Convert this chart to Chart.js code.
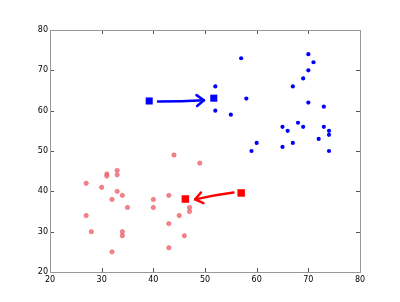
<!DOCTYPE html>
<html><head><meta charset="utf-8">
<script src="https://cdn.jsdelivr.net/npm/chart.js@4"></script>
<style>html,body{margin:0;padding:0;background:#fff}#w{width:400px;height:302px}</style>
</head><body><div id="w"><canvas id="c" width="400" height="302"></canvas></div>
<script>
const xTicks = [20, 30, 40, 50, 60, 70, 80];
const yTicks = [20, 30, 40, 50, 60, 70, 80];
const blueX = [57,70,71,70,69,67,52,58,70,73,52,55,68,65,69,73,66,74,74,72,60,67,65,59,74];
const blueY = [73,74,72,70,68,66,66,63,62,61,60,59,57,56,56,56,55,55,54,53,52,52,51,50,50];
const redX = [44,49,33,33,31,31,27,30,33,34,43,32,40,35,40,47,47,45,27,43,28,34,34,46,43,32];
const redY = [49,47,45.2,44.1,44.3,43.8,42,41,40,39,39,38,38,36,36,36,35,34,34,32,30,30,29,29,26,25];
const blueCentersX = [39.2, 51.7];
const blueCentersY = [62.4, 63.1];
const redCentersX = [57, 46.2];
const redCentersY = [39.6, 38.1];
const blueArrowX = [40.9, 45.5, 49.8];
const blueArrowY = [62.3, 62.3, 62.6];
const redArrowX = [55.5, 51.9, 48.1];
const redArrowY = [39.7, 39.1, 38.0];

const pts = (xs, ys) => xs.map((x, i) => ({x, y: ys[i]}));

const arrowPlugin = {
  id: 'arrows',
  afterDatasetsDraw(chart) {
    const {ctx, scales: {x, y}} = chart;
    const draw = (xs, ys, color) => {
      const p = xs.map((v, i) => [x.getPixelForValue(v), y.getPixelForValue(ys[i])]);
      ctx.save();
      ctx.strokeStyle = color; ctx.lineWidth = 2.5; ctx.lineCap = 'round'; ctx.lineJoin = 'round';
      ctx.beginPath();
      ctx.moveTo(p[0][0], p[0][1]);
      ctx.quadraticCurveTo(p[1][0], p[1][1], p[2][0], p[2][1]);
      ctx.stroke();
      const a = Math.atan2(p[2][1] - p[1][1], p[2][0] - p[1][0]);
      const L = 9, s = 0.65;
      ctx.beginPath();
      ctx.moveTo(p[2][0] - L * Math.cos(a - s), p[2][1] - L * Math.sin(a - s));
      ctx.lineTo(p[2][0], p[2][1]);
      ctx.lineTo(p[2][0] - L * Math.cos(a + s), p[2][1] - L * Math.sin(a + s));
      ctx.stroke();
      ctx.restore();
    };
    draw(blueArrowX, blueArrowY, '#0000ff');
    draw(redArrowX, redArrowY, '#ff0000');
  }
};

const framePlugin = {
  id: 'frame',
  afterDraw(chart) {
    const {ctx, chartArea: a, scales: {x, y}} = chart;
    ctx.save();
    ctx.strokeStyle = '#555'; ctx.lineWidth = 1;
    ctx.beginPath();
    xTicks.forEach(v => {
      const px = Math.round(x.getPixelForValue(v)) + 0.5;
      ctx.moveTo(px, a.bottom); ctx.lineTo(px, a.bottom - 4);
      ctx.moveTo(px, a.top); ctx.lineTo(px, a.top + 4);
    });
    yTicks.forEach(v => {
      const py = Math.round(y.getPixelForValue(v)) + 0.5;
      ctx.moveTo(a.left, py); ctx.lineTo(a.left + 4, py);
      ctx.moveTo(a.right, py); ctx.lineTo(a.right - 4, py);
    });
    ctx.stroke();
    ctx.strokeStyle = '#999';
    ctx.strokeRect(Math.round(a.left) + 0.5, Math.round(a.top) + 0.5, Math.round(a.right - a.left), Math.round(a.bottom - a.top));
    ctx.restore();
  }
};

new Chart(document.getElementById('c'), {
  type: 'scatter',
  data: {
    datasets: [
      {data: pts(blueX, blueY), backgroundColor: '#0000ff', borderColor: '#0000ff', borderWidth: 0, pointRadius: 2.1},
      {data: pts(redX, redY), backgroundColor: 'rgba(242,110,118,0.85)', borderColor: 'rgba(225,80,90,0.9)', borderWidth: 0.5, pointRadius: 2.2},
      {data: pts(blueCentersX, blueCentersY), pointStyle: 'rect', backgroundColor: '#0000ff', borderColor: '#0000ff', borderWidth: 0, pointRadius: 5},
      {data: pts(redCentersX, redCentersY), pointStyle: 'rect', backgroundColor: '#ff0000', borderColor: '#ff0000', borderWidth: 0, pointRadius: 5.3}
    ]
  },
  options: {
    responsive: false, animation: false,
    layout: {padding: {top: 30, right: 40, left: 0, bottom: 0}},
    plugins: {legend: {display: false}, tooltip: {enabled: false}},
    scales: {
      x: {
        min: 20, max: 80,
        afterBuildTicks: s => { s.ticks = xTicks.map(v => ({value: v})); },
        afterFit: s => { s.height = 30; },
        grid: {display: false, drawTicks: false},
        border: {display: false},
        ticks: {color: '#000', font: {family: 'DejaVu Sans', size: 8}, padding: 3, maxRotation: 0, autoSkip: false}
      },
      y: {
        min: 20, max: 80,
        afterBuildTicks: s => { s.ticks = yTicks.map(v => ({value: v})); },
        afterFit: s => { s.width = 50; },
        grid: {display: false, drawTicks: false},
        border: {display: false},
        ticks: {color: '#000', font: {family: 'DejaVu Sans', size: 8}, padding: 2, autoSkip: false}
      }
    }
  },
  plugins: [arrowPlugin, framePlugin]
});
</script>
</body></html>
